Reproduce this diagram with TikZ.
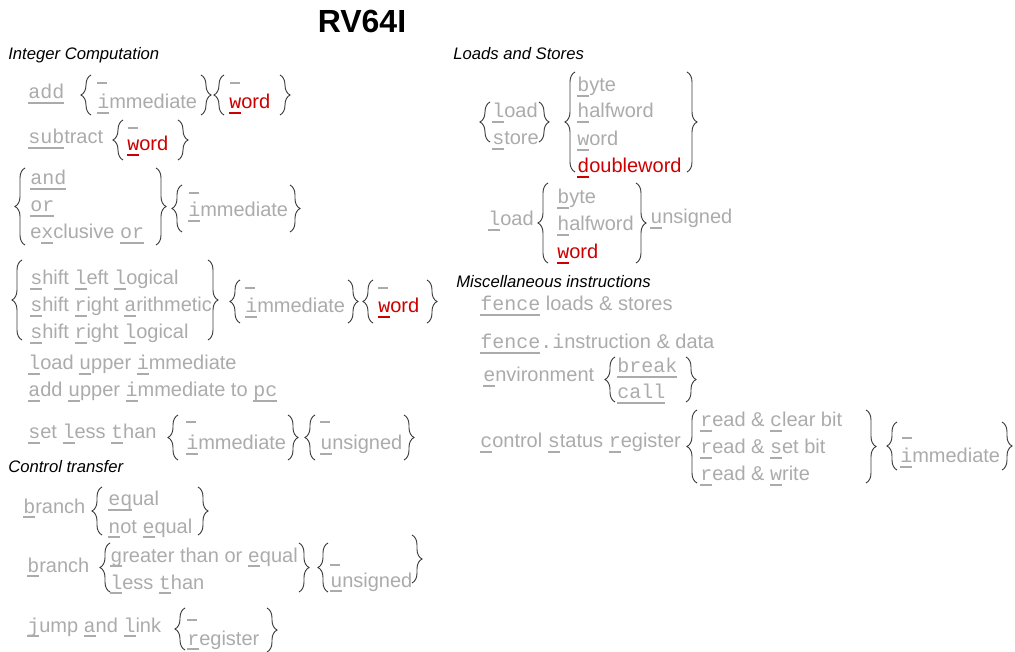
\documentclass[tikz,border=0pt]{standalone}
\usepackage{fontspec}
\setmainfont{Liberation Sans}
\newfontfamily\monof{Liberation Mono}
\usetikzlibrary{decorations.pathreplacing}
\definecolor{txtgray}{HTML}{ABABAB}
\definecolor{wred}{HTML}{CC0000}
\definecolor{brc}{HTML}{3C3C3C}
\newcommand\ulm[1]{\begingroup\setbox0=\hbox{\monof #1}\rlap{\rule[-3.7pt]{\wd0}{1.5pt}}\box0\endgroup}
\newcommand\mon[1]{{\monof #1}}
\tikzset{
  t/.style={anchor=base west, inner sep=0pt, yshift=-1.5pt, text=txtgray, font=\fontsize{15}{18}\selectfont},
  rt/.style={t, text=wred},
  head/.style={anchor=base west, inner sep=0pt, text=black, font=\fontsize{12.5}{15}\selectfont\itshape},
  brl/.style={draw=brc, line width=0.7pt, decorate, decoration={brace, amplitude=7.5pt}},
  blank/.style={draw=txtgray, line width=1.3pt},
}
\begin{document}
\begin{tikzpicture}[x=0.75pt, y=-0.75pt]
\useasboundingbox (0,0) rectangle (1015,652);
\node[anchor=base, inner sep=0pt, font=\fontsize{24}{28}\selectfont\bfseries] (title) at (362,33) {RV64I};

% ---------------- Integer computation
\node[head] (ichead) at (8,60) {Integer Computation};

\node[t] (add) at (28,97) {\ulm{add}};
\draw[brl] (91,115) -- (91,75);
\draw[blank] (97,83) -- ++(10,0);
\node[t] (imm1) at (97,107) {\ulm{i}mmediate};
\draw[brl] (201,75) -- (201,115);
\draw[brl] (224,115) -- (224,75);
\draw[blank] (230,83) -- ++(10,0);
\node[rt] (word1) at (229,107) {\ulm{w}ord};
\draw[brl] (280,75) -- (280,115);

\node[t] (sub) at (28,142) {\ulm{sub}tract};
\draw[brl] (123,160) -- (123,120);
\draw[blank] (128,128) -- ++(10,0);
\node[rt] (word2) at (127,149) {\ulm{w}ord};
\draw[brl] (178,120) -- (178,160);

\draw[brl] (25,245) -- (25,168);
\node[t] (and) at (30,183) {\ulm{and}};
\node[t] (or) at (30,210) {\ulm{or}};
\node[t] (xor) at (30,237) {e\ulm{x}clusive \ulm{or}};
\draw[brl] (156,168) -- (156,245);
\draw[brl] (182,232) -- (182,185);
\draw[blank] (189,193) -- ++(10,0);
\node[t] (imm2) at (188,215) {\ulm{i}mmediate};
\draw[brl] (290,185) -- (290,232);

\draw[brl] (22,340) -- (22,260);
\node[t] (sll) at (30,283) {\ulm{s}hift \ulm{l}eft \ulm{l}ogical};
\node[t] (sra) at (30,310) {\ulm{s}hift \ulm{r}ight \ulm{a}rithmetic};
\node[t] (srl) at (30,337) {\ulm{s}hift \ulm{r}ight \ulm{l}ogical};
\draw[brl] (208,260) -- (208,340);
\draw[brl] (240,323) -- (240,280);
\draw[blank] (245,288) -- ++(10,0);
\node[t] (imm3) at (245,311) {\ulm{i}mmediate};
\draw[brl] (348,280) -- (348,323);
\draw[brl] (373,323) -- (373,280);
\draw[blank] (378,288) -- ++(10,0);
\node[rt] (word3) at (378,311) {\ulm{w}ord};
\draw[brl] (427,280) -- (427,323);

\node[t] (lui) at (28,368) {\ulm{l}oad \ulm{u}pper \ulm{i}mmediate};
\node[t] (auipc) at (28,395) {\ulm{a}dd \ulm{u}pper \ulm{i}mmediate to \ulm{pc}};
\node[t] (slt) at (28,437) {\ulm{s}et \ulm{l}ess \ulm{t}han};
\draw[brl] (178,460) -- (178,415);
\draw[blank] (186,422) -- ++(10,0);
\node[t] (imm4) at (186,448) {\ulm{i}mmediate};
\draw[brl] (288,415) -- (288,460);
\draw[brl] (315,460) -- (315,415);
\draw[blank] (320,422) -- ++(10,0);
\node[t] (uns1) at (320,448) {\ulm{u}nsigned};
\draw[brl] (404,415) -- (404,460);

% ---------------- Control transfer
\node[head] (cthead) at (8,473) {Control transfer};
\node[t] (br1) at (23,511) {\ulm{b}ranch};
\draw[brl] (102,535) -- (102,487);
\node[t] (beq) at (108,504) {\ulm{eq}ual};
\node[t] (bne) at (108,531) {\ulm{n}ot \ulm{e}qual};
\draw[brl] (198,487) -- (198,535);

\node[t] (br2) at (27,570) {\ulm{b}ranch};
\draw[brl] (110,592) -- (110,543);
\node[t] (bge) at (110,560) {\ulm{g}reater than or \ulm{e}qual};
\node[t] (blt) at (110,587) {\ulm{l}ess \ulm{t}han};
\draw[brl] (299,543) -- (299,592);
\draw[brl] (328,592) -- (328,543);
\draw[blank] (330,565) -- ++(10,0);
\node[t] (uns2) at (330,585) {\ulm{u}nsigned};
\draw[brl] (412,535) -- (412,583);

\node[t] (jal) at (27,630) {\ulm{j}ump \ulm{a}nd \ulm{l}ink};
\draw[brl] (185,650) -- (185,608);
\draw[blank] (187,620) -- ++(10,0);
\node[t] (reg) at (187,643) {\ulm{r}egister};
\draw[brl] (267,608) -- (267,652);

% ---------------- Loads and stores
\node[head] (lshead) at (453,60) {Loads and Stores};
\draw[brl] (490,142) -- (490,102);
\node[t] (ld) at (492,116) {\ulm{l}oad};
\node[t] (st) at (492,143) {\ulm{s}tore};
\draw[brl] (539,102) -- (539,142);
\draw[brl] (575,172) -- (575,72);
\node[t] (byte) at (577,90) {\ulm{b}yte};
\node[t] (half) at (577,116) {\ulm{h}alfword};
\node[t] (wordl) at (577,144) {\ulm{w}ord};
\node[rt] (dbl) at (577,171) {\ulm{d}oubleword};
\draw[brl] (687,72) -- (687,172);

\node[t] (ldu) at (488,224) {\ulm{l}oad};
\draw[brl] (548,263) -- (548,183);
\node[t] (byteu) at (557,202) {\ulm{b}yte};
\node[t] (halfu) at (557,229) {\ulm{h}alfword};
\node[rt] (wordu) at (557,257) {\ulm{w}ord};
\draw[brl] (636,183) -- (636,263);
\node[t] (uns3) at (650,222) {\ulm{u}nsigned};

% ---------------- Misc
\node[head] (mischead) at (456,288) {Miscellaneous instructions};
\node[t] (fence) at (480,309) {\ulm{fence} loads \& stores};
\node[t] (fencei) at (480,347) {\ulm{fence}\mon{.i}nstruction \& data};
\node[t] (env) at (483,380) {\ulm{e}nvironment};
\draw[brl] (615,402) -- (615,357);
\node[t] (brk) at (617,371) {\ulm{break}};
\node[t] (call) at (617,397) {\ulm{call}};
\draw[brl] (686,357) -- (686,402);

\node[t] (csr) at (480,446) {\ulm{c}ontrol \ulm{s}tatus \ulm{r}egister};
\draw[brl] (697,483) -- (697,410);
\node[t] (rc) at (700,425) {\ulm{r}ead \& \ulm{c}lear bit};
\node[t] (rs) at (700,452) {\ulm{r}ead \& \ulm{s}et bit};
\node[t] (rw) at (700,479) {\ulm{r}ead \& \ulm{w}rite};
\draw[brl] (866,410) -- (866,483);
\draw[brl] (897,470) -- (897,422);
\draw[blank] (902,438) -- ++(10,0);
\node[t] (imm5) at (900,461) {\ulm{i}mmediate};
\draw[brl] (1002,422) -- (1002,470);
\end{tikzpicture}
\end{document}
